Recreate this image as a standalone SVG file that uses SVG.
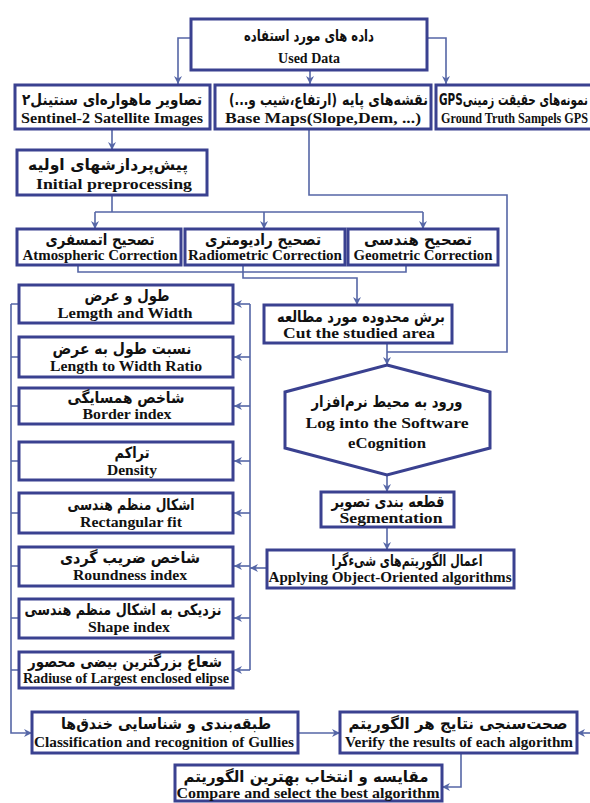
<svg xmlns="http://www.w3.org/2000/svg" width="590" height="803" viewBox="0 0 590 803">
<defs>
<style>
.box{fill:#fff;stroke:#3a4190;stroke-width:3}
.con{fill:none;stroke:#5566a6;stroke-width:1.6}
.arr{marker-end:url(#ah)}
.fa{font-family:"DejaVu Sans",sans-serif;font-weight:bold;font-size:15.5px;text-anchor:middle;fill:#111}
.en{font-family:"Liberation Serif",serif;font-weight:bold;font-size:14px;text-anchor:middle;fill:#111}
</style>
<marker id="ah" viewBox="0 0 10 10" refX="10" refY="5" markerWidth="8" markerHeight="8" orient="auto" markerUnits="userSpaceOnUse">
<path d="M0,0 L10,5 L0,10 L3,5 z" fill="#5566a6"/>
</marker>
</defs>
<rect width="590" height="803" fill="#fff"/>

<g id="connectors">
<path class="con arr" d="M191,38 H178 V84"/>
<path class="con arr" d="M310,70 V84"/>
<path class="con arr" d="M427,38 H446 V84"/>
<path class="con arr" d="M112,129 V150"/>
<path class="con" d="M112,195 V212 M95,212 H423"/>
<path class="con arr" d="M95,212 V229"/>
<path class="con arr" d="M264,212 V229"/>
<path class="con arr" d="M423,212 V229"/>
<path class="con" d="M78,265 V272 H406 V265"/>
<path class="con arr" d="M243,265 V278 H357 V305"/>
<path class="con" d="M309,129 V195 H507 V352 H387"/>
<path class="con arr" d="M387,343 V365"/>
<path class="con arr" d="M387,475 V492"/>
<path class="con arr" d="M387,527 V550"/>
<path class="con arr" d="M267,568 H250"/>
<path class="con" d="M250,304 V670"/>
<path class="con arr" d="M250,304 H234"/>
<path class="con arr" d="M250,357 H234"/>
<path class="con arr" d="M250,406 H234"/>
<path class="con arr" d="M250,461 H234"/>
<path class="con arr" d="M250,513 H234"/>
<path class="con arr" d="M250,566 H234"/>
<path class="con arr" d="M250,618 H234"/>
<path class="con arr" d="M250,670 H234"/>
<path class="con" d="M19,304 H11 M19,357 H11 M19,406 H11 M19,461 H11 M19,513 H11 M19,566 H11 M19,618 H11 M19,670 H11"/>
<path class="con arr" d="M11,304 V733 H32"/>
<path class="con arr" d="M298,733 H340"/>
<path class="con arr" d="M590,733 H577"/>
<path class="con arr" d="M461,753 V787 H442"/>
</g>

<g id="used-data">
<rect class="box" x="191" y="19" width="236" height="51"/>
<text class="fa" x="309" y="41" font-size="16" textLength="130" lengthAdjust="spacingAndGlyphs">داده های مورد استفاده</text>
<text class="en" x="309" y="63" font-size="20">Used Data</text>
</g>

<g id="sentinel">
<rect class="box" x="15" y="85" width="195" height="44"/>
<text class="fa" x="112" y="105" textLength="180" lengthAdjust="spacingAndGlyphs">تصاویر ماهواره‌ای سنتینل۲</text>
<text class="en" x="112" y="123" font-size="13.5" textLength="182" lengthAdjust="spacingAndGlyphs">Sentinel-2 Satellite Images</text>
</g>

<g id="base-maps">
<rect class="box" x="215" y="85" width="216" height="44"/>
<text class="fa" x="428" y="105" font-size="15" style="text-anchor:end" textLength="86" lengthAdjust="spacingAndGlyphs">نقشه‌های پایه</text>
<text class="fa" x="337" y="105" font-size="12" style="text-anchor:end" textLength="108" lengthAdjust="spacingAndGlyphs">&#x200F;(ارتفاع،شیب و...)&#x200F;</text>
<text class="en" x="323" y="123" font-size="13.5" textLength="196" lengthAdjust="spacingAndGlyphs">Base Maps(Slope,Dem, ...)</text>
</g>

<g id="gps">
<rect class="box" x="436" y="85" width="162" height="44"/>
<text class="fa" x="439" y="105" font-size="14" style="text-anchor:start" textLength="149" lengthAdjust="spacingAndGlyphs">GPSنمونه‌های حقیقت زمینی</text>
<text class="en" x="441" y="123" font-size="12.2" style="text-anchor:start" textLength="147" lengthAdjust="spacingAndGlyphs">Ground Truth Sampels GPS</text>
</g>

<g id="initial">
<rect class="box" x="17" y="150" width="190" height="45"/>
<text class="fa" x="108" y="170" textLength="160" lengthAdjust="spacingAndGlyphs">پیش‌پردازشهای اولیه</text>
<text class="en" x="114" y="189" font-size="15" textLength="156" lengthAdjust="spacingAndGlyphs">Initial preprocessing</text>
</g>

<g id="atmospheric">
<rect class="box" x="17" y="229" width="164" height="36"/>
<text class="fa" x="100" y="245" textLength="109" lengthAdjust="spacingAndGlyphs">تصحیح اتمسفری</text>
<text class="en" x="100" y="260" font-size="13" textLength="155" lengthAdjust="spacingAndGlyphs">Atmospheric Correction</text>
</g>

<g id="radiometric">
<rect class="box" x="185" y="229" width="160" height="36"/>
<text class="fa" x="263" y="245" textLength="116" lengthAdjust="spacingAndGlyphs">تصحیح رادیومتری</text>
<text class="en" x="265" y="260" font-size="13" textLength="154" lengthAdjust="spacingAndGlyphs">Radiometric Correction</text>
</g>

<g id="geometric">
<rect class="box" x="348" y="229" width="150" height="36"/>
<text class="fa" x="418" y="245" textLength="108" lengthAdjust="spacingAndGlyphs">تصحیح هندسی</text>
<text class="en" x="423" y="260" font-size="13" textLength="139" lengthAdjust="spacingAndGlyphs">Geometric Correction</text>
</g>

<g id="cut-area">
<rect class="box" x="264" y="305" width="188" height="38"/>
<text class="fa" x="361" y="322" textLength="168" lengthAdjust="spacingAndGlyphs">برش محدوده مورد مطالعه</text>
<text class="en" x="359" y="338" font-size="15" textLength="152" lengthAdjust="spacingAndGlyphs">Cut the studied area</text>
</g>

<g id="ecognition">
<polygon class="box" points="387,365 490,392 490,448 387,475 285,448 285,392"/>
<text class="fa" x="387" y="407" textLength="151" lengthAdjust="spacingAndGlyphs">ورود به محیط نرم‌افزار</text>
<text class="en" x="387" y="428" font-size="16" textLength="163" lengthAdjust="spacingAndGlyphs">Log into the Software</text>
<text class="en" x="387" y="448" font-size="16" textLength="78" lengthAdjust="spacingAndGlyphs">eCognition</text>
</g>

<g id="segmentation">
<rect class="box" x="321" y="492" width="133" height="35"/>
<text class="fa" x="388" y="507" textLength="113" lengthAdjust="spacingAndGlyphs">قطعه بندی تصویر</text>
<text class="en" x="391" y="523" font-size="15" textLength="103" lengthAdjust="spacingAndGlyphs">Segmentation</text>
</g>

<g id="applying">
<rect class="box" x="267" y="550" width="247" height="38"/>
<text class="fa" x="407" y="566" textLength="151" lengthAdjust="spacingAndGlyphs">اعمال الگوریتم‌های شیءگرا</text>
<text class="en" x="390" y="582" font-size="13" textLength="243" lengthAdjust="spacingAndGlyphs">Applying Object-Oriented algorithms</text>
</g>

<g id="length-width">
<rect class="box" x="19" y="285" width="214" height="38"/>
<text class="fa" x="127" y="301" textLength="85" lengthAdjust="spacingAndGlyphs">طول و عرض</text>
<text class="en" x="125" y="318" textLength="135" lengthAdjust="spacingAndGlyphs">Lemgth and Width</text>
</g>

<g id="ratio">
<rect class="box" x="19" y="337" width="214" height="40"/>
<text class="fa" x="122" y="354" textLength="139" lengthAdjust="spacingAndGlyphs">نسبت طول به عرض</text>
<text class="en" x="126" y="371" textLength="152" lengthAdjust="spacingAndGlyphs">Length to Width Ratio</text>
</g>

<g id="border">
<rect class="box" x="19" y="388" width="214" height="36"/>
<text class="fa" x="126" y="403" textLength="117" lengthAdjust="spacingAndGlyphs">شاخص همسایگی</text>
<text class="en" x="127" y="419" textLength="89" lengthAdjust="spacingAndGlyphs">Border index</text>
</g>

<g id="density">
<rect class="box" x="19" y="442" width="214" height="38"/>
<text class="fa" x="132" y="458" textLength="35" lengthAdjust="spacingAndGlyphs">تراکم</text>
<text class="en" x="132" y="475" textLength="50" lengthAdjust="spacingAndGlyphs">Density</text>
</g>

<g id="rectangular">
<rect class="box" x="19" y="493" width="214" height="40"/>
<text class="fa" x="131" y="510" textLength="127" lengthAdjust="spacingAndGlyphs">اشکال منظم هندسی</text>
<text class="en" x="131" y="527" textLength="102" lengthAdjust="spacingAndGlyphs">Rectangular fit</text>
</g>

<g id="roundness">
<rect class="box" x="19" y="547" width="214" height="39"/>
<text class="fa" x="130" y="563" textLength="140" lengthAdjust="spacingAndGlyphs">شاخص ضریب گردی</text>
<text class="en" x="130" y="580" textLength="114" lengthAdjust="spacingAndGlyphs">Roundness index</text>
</g>

<g id="shape">
<rect class="box" x="19" y="599" width="214" height="39"/>
<text class="fa" x="123" y="615" textLength="197" lengthAdjust="spacingAndGlyphs">نزدیکی به اشکال منظم هندسی</text>
<text class="en" x="129" y="632" textLength="82" lengthAdjust="spacingAndGlyphs">Shape index</text>
</g>

<g id="radiuse">
<rect class="box" x="19" y="652" width="214" height="36"/>
<text class="fa" x="125" y="667" textLength="194" lengthAdjust="spacingAndGlyphs">شعاع بزرگترین بیضی محصور</text>
<text class="en" x="126" y="683" font-size="12.5" textLength="206" lengthAdjust="spacingAndGlyphs">Radiuse of Largest enclosed elipse</text>
</g>

<g id="classification">
<rect class="box" x="32" y="712" width="266" height="41"/>
<text class="fa" x="166" y="729" textLength="210" lengthAdjust="spacingAndGlyphs">طبقه‌بندی و شناسایی خندق‌ها</text>
<text class="en" x="164" y="747" textLength="260" lengthAdjust="spacingAndGlyphs">Classification and recognition of Gullies</text>
</g>

<g id="verify">
<rect class="box" x="340" y="712" width="237" height="41"/>
<text class="fa" x="458" y="729" textLength="219" lengthAdjust="spacingAndGlyphs">صحت‌سنجی نتایج هر الگوریتم</text>
<text class="en" x="459" y="747" textLength="228" lengthAdjust="spacingAndGlyphs">Verify the results of each algorithm</text>
</g>

<g id="compare">
<rect class="box" x="175" y="765" width="267" height="36"/>
<text class="fa" x="306" y="782" textLength="245" lengthAdjust="spacingAndGlyphs">مقایسه و انتخاب بهترین الگوریتم</text>
<text class="en" x="308" y="798" textLength="263" lengthAdjust="spacingAndGlyphs">Compare and select the best algorithm</text>
</g>
</svg>
